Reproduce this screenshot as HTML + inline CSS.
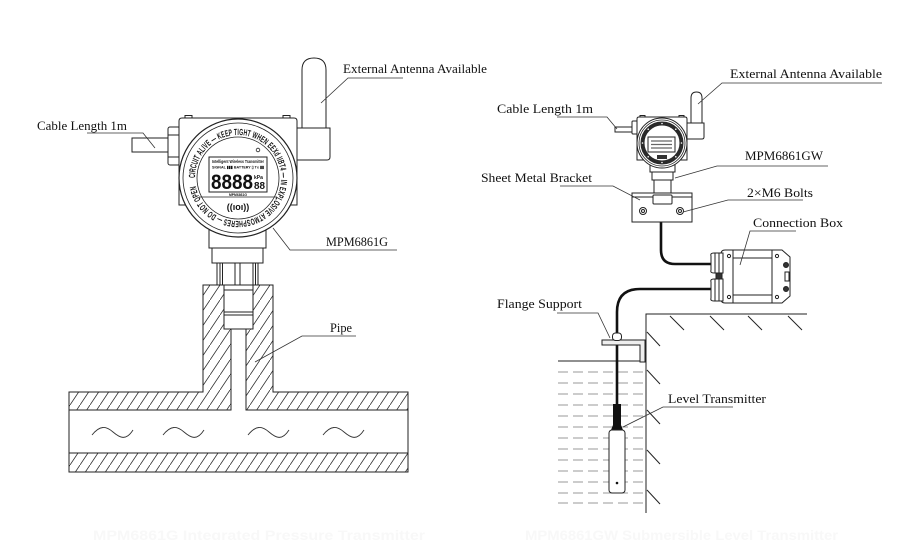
<!DOCTYPE html>
<html><head><meta charset="utf-8"><style>
html,body{margin:0;padding:0;background:#fff;}
svg{display:block;}
text{font-family:"Liberation Serif",serif;fill:#111;}
</style></head><body>
<svg width="899" height="540" viewBox="0 0 899 540" xmlns="http://www.w3.org/2000/svg">
<defs>
<pattern id="h" patternUnits="userSpaceOnUse" width="10" height="15">
<path d="M-1,16.5 L11,-1.5" stroke="#333" stroke-width="0.8"/>
</pattern>
<path id="ring" d="M195,178 A43,43 0 1,1 281,178 A43,43 0 1,1 195,178"/>
</defs>
<rect width="899" height="540" fill="#fff"/>

<!-- ============ LEFT: PIPE ============ -->
<g stroke="#222" stroke-width="1" fill="url(#h)">
<path d="M69,392 H203 V285 H224 V329 H231 V410 H69 Z"/>
<path d="M246,410 V329 H253 V285 H273 V392 H408 V410 Z"/>
<rect x="69" y="453" width="339" height="19"/>
</g>
<g stroke="#222" stroke-width="1" fill="none">
<line x1="69" y1="410" x2="69" y2="453"/>
<line x1="408" y1="410" x2="408" y2="453"/>
<line x1="246" y1="410" x2="408" y2="410"/>
</g>
<!-- waves -->
<g stroke="#333" stroke-width="0.9" fill="none">
<path d="M92,435 C100,425 106,426 113,432 S126,441 133,430"/>
<path d="M163,435 C171,425 177,426 184,432 S197,441 204,430"/>
<path d="M248,435 C256,425 262,426 269,432 S282,441 289,430"/>
<path d="M323,435 C331,425 337,426 344,432 S357,441 364,430"/>
</g>
<!-- fitting in socket -->
<g stroke="#222" stroke-width="1" fill="#fff">
<rect x="224" y="285" width="29" height="44"/>
<line x1="224" y1="290" x2="253" y2="290"/>
<line x1="224" y1="312" x2="253" y2="312"/>
<line x1="224" y1="315" x2="253" y2="315"/>
</g>

<!-- ============ LEFT DEVICE ============ -->
<g stroke="#222" stroke-width="1" fill="#fff">
<rect x="217" y="263" width="41" height="22"/>
<line x1="220" y1="263" x2="220" y2="285"/><line x1="222.5" y1="263" x2="222.5" y2="285"/>
<line x1="235" y1="263" x2="235" y2="285"/><line x1="240" y1="263" x2="240" y2="285"/>
<line x1="253" y1="263" x2="253" y2="285"/><line x1="255.5" y1="263" x2="255.5" y2="285"/>
<rect x="212" y="248" width="51" height="15"/>
<rect x="209" y="226" width="57" height="22"/>
<path d="M168,138 H132 V152 H168"/>
<rect x="168" y="127" width="12" height="38" rx="2"/>
<line x1="168" y1="135" x2="180" y2="135"/><line x1="168" y1="157" x2="180" y2="157"/>
<path d="M302,130 V70 Q302,58 314,58 Q326,58 326,70 V130"/>
<path d="M297,128 H330 V157 Q330,160 327,160 H297 Z"/>
<rect x="185" y="115.5" width="7" height="3"/><rect x="283" y="115.5" width="7" height="3"/>
<path d="M179,205 V121 Q179,118 182,118 H294 Q297,118 297,121 V205 Z"/>
<circle cx="238" cy="178" r="59" stroke-width="1.2"/>
<circle cx="238" cy="178" r="55" stroke-width="0.8"/>
<circle cx="238" cy="178" r="41" stroke-width="0.8"/>
</g>
<text font-size="9" font-weight="bold" style="font-family:'Liberation Sans',sans-serif" fill="#222" letter-spacing="0.3"><textPath href="#ring" textLength="262" lengthAdjust="spacingAndGlyphs">CIRCUIT ALIVE — KEEP TIGHT WHEN EEXd IIBT4 — IN EXPLOSIVE ATMOSPHERES — DO NOT OPEN</textPath></text>
<circle cx="258" cy="150" r="1.8" fill="none" stroke="#222" stroke-width="0.8"/>
<!-- LCD -->
<rect x="209" y="157" width="58" height="35" fill="#fff" stroke="#222" stroke-width="1"/>
<text x="212" y="163" font-size="4.5" font-weight="bold" style="font-family:'Liberation Sans',sans-serif" textLength="52" lengthAdjust="spacingAndGlyphs">Intelligent Wireless Transmitter</text>
<text x="212" y="168.5" font-size="4" font-weight="bold" style="font-family:'Liberation Sans',sans-serif" textLength="52" lengthAdjust="spacingAndGlyphs">SIGNAL ▮▮▮ BATTERY ▯ Tx ▮▮</text>
<text x="211" y="189" font-size="21" font-weight="bold" style="font-family:'Liberation Sans',sans-serif" textLength="42" lengthAdjust="spacingAndGlyphs">8888</text>
<text x="254" y="179" font-size="5" font-weight="bold" style="font-family:'Liberation Sans',sans-serif">kPa</text>
<text x="254" y="189" font-size="10" font-weight="bold" style="font-family:'Liberation Sans',sans-serif" textLength="11" lengthAdjust="spacingAndGlyphs">88</text>
<text x="229" y="196" font-size="4" font-weight="bold" style="font-family:'Liberation Sans',sans-serif" textLength="18" lengthAdjust="spacingAndGlyphs">MPM6861G</text>
<line x1="199" y1="197" x2="277" y2="197" stroke="#222" stroke-width="0.8"/>
<text x="238" y="210" font-size="9" font-weight="bold" text-anchor="middle" style="font-family:'Liberation Sans',sans-serif">((ıoı))</text>

<!-- LEFT labels -->
<g stroke="#333" stroke-width="0.8" fill="none">
<path d="M321,103 L348,78 H403"/>
<path d="M155,148 L143,133 H87"/>
<path d="M273,228 L290,250 H397"/>
<path d="M255,362 L302,336 H356"/>
</g>
<text x="343" y="73" font-size="12.5" textLength="144" lengthAdjust="spacingAndGlyphs">External Antenna Available</text>
<text x="37" y="130" font-size="12.5" textLength="90" lengthAdjust="spacingAndGlyphs">Cable Length 1m</text>
<text x="326" y="246" font-size="12.5" textLength="62" lengthAdjust="spacingAndGlyphs">MPM6861G</text>
<text x="330" y="332" font-size="12.5" textLength="22" lengthAdjust="spacingAndGlyphs">Pipe</text>

<!-- ============ RIGHT SIDE ============ -->
<g stroke="#222" stroke-width="1" fill="none">
<path d="M646,513 V314 H807"/>
<line x1="670" y1="316" x2="684" y2="330"/>
<line x1="710" y1="316" x2="724" y2="330"/>
<line x1="748" y1="316" x2="762" y2="330"/>
<line x1="788" y1="316" x2="802" y2="330"/>
<line x1="647" y1="332" x2="660" y2="346"/>
<line x1="647" y1="370" x2="660" y2="384"/>
<line x1="647" y1="410" x2="660" y2="424"/>
<line x1="647" y1="450" x2="660" y2="464"/>
<line x1="647" y1="490" x2="660" y2="504"/>
<line x1="558" y1="361" x2="646" y2="361"/>
</g>
<g stroke="#999" stroke-width="0.9" stroke-dasharray="10,5" fill="none">
<line x1="558" y1="372" x2="646" y2="372"/>
<line x1="558" y1="383" x2="646" y2="383"/>
<line x1="558" y1="394" x2="646" y2="394"/>
<line x1="558" y1="405" x2="646" y2="405"/>
<line x1="558" y1="416" x2="646" y2="416"/>
<line x1="558" y1="427" x2="646" y2="427"/>
<line x1="558" y1="438" x2="646" y2="438"/>
<line x1="558" y1="449" x2="646" y2="449"/>
<line x1="558" y1="460" x2="646" y2="460"/>
<line x1="558" y1="471" x2="646" y2="471"/>
<line x1="558" y1="482" x2="646" y2="482"/>
<line x1="558" y1="493" x2="646" y2="493"/>
<line x1="558" y1="503" x2="646" y2="503"/>
</g>

<!-- cables -->
<g stroke="#111" stroke-width="2.6" fill="none">
<path d="M661,205 V250 Q661,264 675,264 H712"/>
<path d="M712,289 H640 Q617,289 617,312 V404"/>
</g>

<!-- flange support -->
<g stroke="#222" stroke-width="1" fill="#fff">
<path d="M602,340 H645 V362 H640 V345 H602 Z" fill="#eee"/>
<rect x="612.5" y="333" width="9" height="7.5" rx="3" fill="#fff"/>
</g>
<!-- sensor -->
<path d="M613,404 H621 V425 L623,430 H611 L613,425 Z" fill="#111"/>
<rect x="609" y="430" width="16" height="63" rx="3" fill="#fff" stroke="#222" stroke-width="1"/>
<circle cx="617" cy="483" r="1.3" fill="#111"/>

<!-- connection box -->
<g stroke="#222" stroke-width="1" fill="#fff">
<path d="M725,250 H782 L790,257 V296 L782,303 H725 Q721,303 721,299 V254 Q721,250 725,250 Z"/>
<line x1="733" y1="250" x2="733" y2="303"/>
<line x1="772" y1="250" x2="772" y2="303"/>
<line x1="733" y1="258" x2="772" y2="258"/>
<line x1="733" y1="295" x2="772" y2="295"/>
<path d="M711,256 Q710,253 714,253 H723 V273 H714 Q710,273 711,270 Z"/>
<line x1="715" y1="253" x2="715" y2="273"/><line x1="719" y1="253" x2="719" y2="273"/>
<path d="M711,282 Q710,279 714,279 H723 V301 H714 Q710,301 711,298 Z"/>
<line x1="715" y1="279" x2="715" y2="301"/><line x1="719" y1="279" x2="719" y2="301"/>
<rect x="716" y="273" width="6" height="6" fill="#333"/>
<circle cx="729" cy="256" r="1.6"/><circle cx="777" cy="256" r="1.6"/>
<circle cx="729" cy="297" r="1.6"/><circle cx="777" cy="297" r="1.6"/>
<circle cx="786" cy="265" r="2.5" fill="#333"/><circle cx="786" cy="289" r="2.5" fill="#333"/>
<rect x="785" y="272" width="4" height="9"/>
</g>

<!-- right device -->
<g stroke="#222" stroke-width="1" fill="#fff">
<rect x="650" y="162" width="25" height="10"/>
<rect x="652" y="172" width="21" height="8"/>
<rect x="654" y="180" width="17" height="13"/>
<rect x="632" y="193" width="60" height="29"/>
<line x1="632" y1="197" x2="692" y2="197"/>
<rect x="653" y="195" width="19" height="9" rx="1"/>
<circle cx="643" cy="211" r="3.5"/><circle cx="643" cy="211" r="1.5"/>
<circle cx="680" cy="211" r="3.5"/><circle cx="680" cy="211" r="1.5"/>
<path d="M632,127 H615 V132 H632"/>
<rect x="632" y="121" width="6" height="13" rx="1"/>
<path d="M691,125 V98 Q691,92 696.5,92 Q702,92 702,98 V125"/>
<path d="M687,123 H704 V137 Q704,139 702,139 H687 Z"/>
<rect x="640" y="115.5" width="5" height="2"/><rect x="679" y="115.5" width="5" height="2"/>
<path d="M637,160 V119 Q637,117 639,117 H685 Q687,117 687,119 V160 Z"/>
<circle cx="662" cy="143" r="25"/>
<circle cx="662" cy="143" r="23" stroke-width="0.8"/>
</g>
<circle cx="662" cy="143" r="19.5" fill="none" stroke="#2a2a2a" stroke-width="4"/>
<g fill="#fff">
<circle cx="662" cy="123.5" r="0.8"/><circle cx="675.8" cy="129.2" r="0.8"/><circle cx="681.5" cy="143" r="0.8"/>
<circle cx="675.8" cy="156.8" r="0.8"/><circle cx="662" cy="162.5" r="0.8"/><circle cx="648.2" cy="156.8" r="0.8"/>
<circle cx="642.5" cy="143" r="0.8"/><circle cx="648.2" cy="129.2" r="0.8"/>
</g>
<rect x="648" y="137" width="27" height="15" fill="#fff" stroke="#222" stroke-width="1"/>
<g stroke="#666" stroke-width="1.2">
<line x1="651" y1="141" x2="672" y2="141"/><line x1="651" y1="144.5" x2="672" y2="144.5"/><line x1="651" y1="148" x2="672" y2="148"/>
</g>
<rect x="657" y="155" width="10" height="4" fill="#333"/>

<!-- RIGHT labels -->
<g stroke="#333" stroke-width="0.8" fill="none">
<path d="M698,104 L722,83 H882"/>
<path d="M617,129 L607,117 H557"/>
<path d="M675,178 L717,166 H828"/>
<path d="M640,200 L613,186 H560"/>
<path d="M683,212 L728,200 H803"/>
<path d="M740,265 L750,231 H796"/>
<path d="M610,338 L598,313 H557"/>
<path d="M623,427 L663,407 H733"/>
</g>
<text x="730" y="78" font-size="12.5" textLength="152" lengthAdjust="spacingAndGlyphs">External Antenna Available</text>
<text x="497" y="113" font-size="12.5" textLength="96" lengthAdjust="spacingAndGlyphs">Cable Length 1m</text>
<text x="745" y="160" font-size="12.5" textLength="78" lengthAdjust="spacingAndGlyphs">MPM6861GW</text>
<text x="481" y="182" font-size="12.5" textLength="111" lengthAdjust="spacingAndGlyphs">Sheet Metal Bracket</text>
<text x="747" y="197" font-size="12.5" textLength="66" lengthAdjust="spacingAndGlyphs">2×M6 Bolts</text>
<text x="753" y="227" font-size="12.5" textLength="90" lengthAdjust="spacingAndGlyphs">Connection Box</text>
<text x="497" y="308" font-size="12.5" textLength="85" lengthAdjust="spacingAndGlyphs">Flange Support</text>
<text x="668" y="403" font-size="12.5" textLength="98" lengthAdjust="spacingAndGlyphs">Level Transmitter</text>

<!-- faint captions -->
<text x="93" y="540" font-size="14" font-weight="bold" style="font-family:'Liberation Sans',sans-serif;fill:#f8f8f8" textLength="332" lengthAdjust="spacingAndGlyphs">MPM6861G Integrated Pressure Transmitter</text>
<text x="525" y="540" font-size="14" font-weight="bold" style="font-family:'Liberation Sans',sans-serif;fill:#f8f8f8" textLength="313" lengthAdjust="spacingAndGlyphs">MPM6861GW Submersible Level Transmitter</text>
</svg>
</body></html>
